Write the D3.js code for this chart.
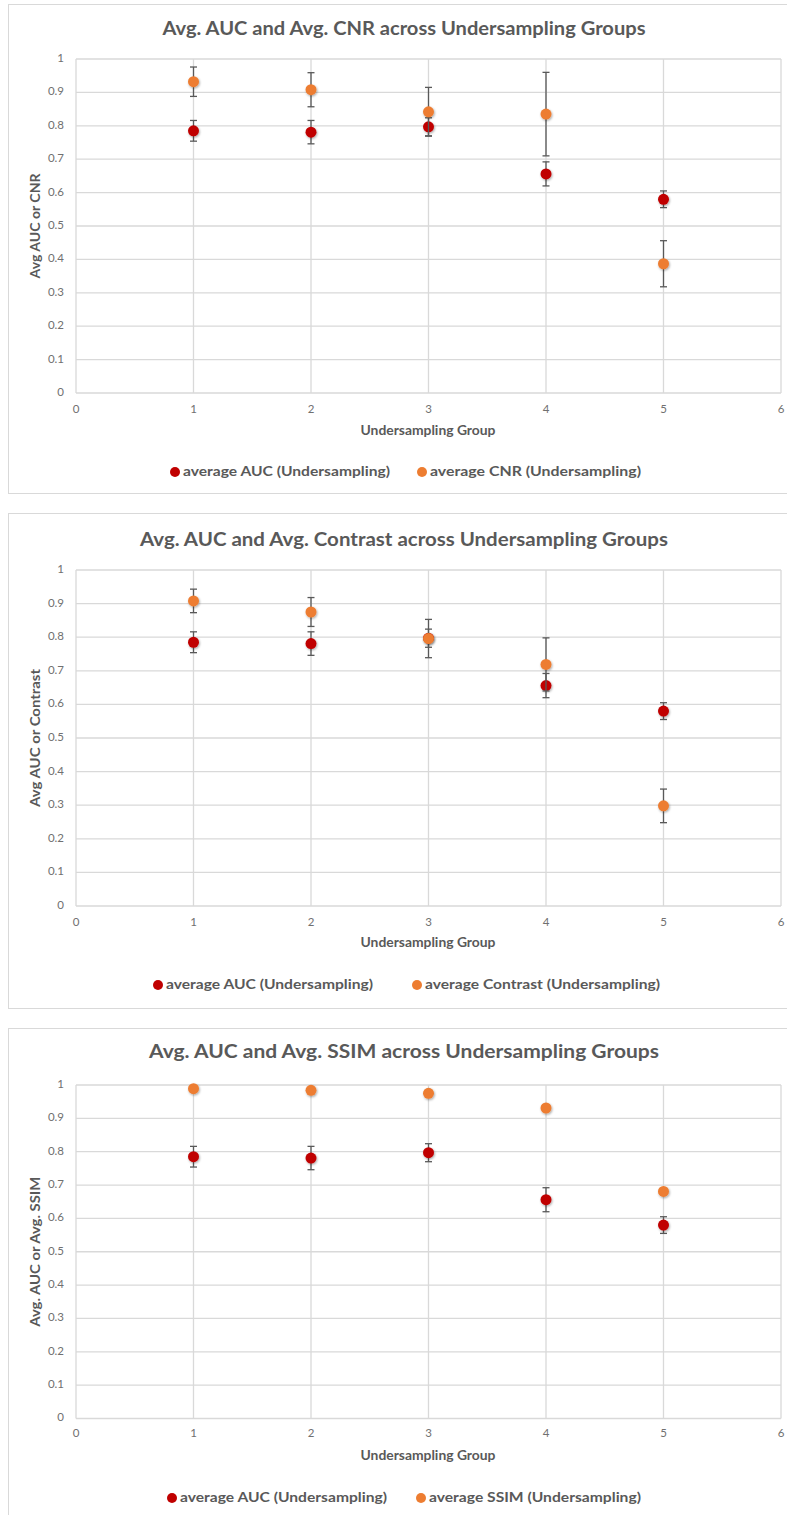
<!DOCTYPE html>
<html><head><meta charset="utf-8">
<script src="https://cdn.jsdelivr.net/npm/d3@7"></script>
<style>body{margin:0;background:#fff}svg{display:block}text{font-family:Lato,"Open Sans",sans-serif}</style>
</head><body>
<script>
const groups = [1, 2, 3, 4, 5];
const xTicks = [0, 1, 2, 3, 4, 5, 6];
const yTicks = [0, 0.1, 0.2, 0.3, 0.4, 0.5, 0.6, 0.7, 0.8, 0.9, 1];
const aucMean = [0.785, 0.781, 0.797, 0.656, 0.580];
const aucErr = [0.031, 0.035, 0.027, 0.036, 0.025];
const cnrMean = [0.932, 0.908, 0.842, 0.835, 0.387];
const cnrErr = [0.044, 0.051, 0.073, 0.125, 0.069];
const contrastMean = [0.908, 0.875, 0.796, 0.719, 0.298];
const contrastErr = [0.035, 0.043, 0.057, 0.079, 0.050];
const ssimMean = [0.989, 0.984, 0.975, 0.931, 0.681];
const ssimErr = [0, 0, 0, 0, 0];
const titles = ["Avg. AUC and Avg. CNR across Undersampling Groups",
  "Avg. AUC and Avg. Contrast across Undersampling Groups",
  "Avg. AUC and Avg. SSIM across Undersampling Groups"];
const yLabels = ["Avg AUC or CNR", "Avg AUC or Contrast", "Avg. AUC or Avg. SSIM"];
const legendA = "average AUC (Undersampling)";
const legendB = ["average CNR (Undersampling)", "average Contrast (Undersampling)", "average SSIM (Undersampling)"];
const xLabel = "Undersampling Group";

const RED = "#C00000", ORANGE = "#ED7D31", GRID = "#d9d9d9", TXT = "#595959";

const svg = d3.select("body").append("svg").attr("width", 787).attr("height", 1515);
const defs = svg.append("defs");
const f = defs.append("filter").attr("id", "sh").attr("x", "-50%").attr("y", "-50%").attr("width", "200%").attr("height", "200%");
f.append("feDropShadow").attr("dx", 0.8).attr("dy", 1.2).attr("stdDeviation", 1.2).attr("flood-color", "#000").attr("flood-opacity", 0.35);

const layouts = [
  {box:[8,4,800,489], top:59, bottom:393, title:30, xtick:410, xlab:432, leg:472, ylx:37, yl:105, legA:175, legB:422, tl:483, la:207, lb:211},
  {box:[8,513,800,495], top:570, bottom:906, title:541, xtick:923, xlab:944, leg:985, ylx:37, yl:138, legA:158, legB:417, tl:528, la:207, lb:235},
  {box:[8,1028,800,500], top:1085, bottom:1418.5, title:1053, xtick:1434, xlab:1457, leg:1498, ylx:37, yl:150, legA:172, legB:421, tl:510, la:207, lb:212}
];
const seriesB = [[cnrMean, cnrErr], [contrastMean, contrastErr], [ssimMean, ssimErr]];

layouts.forEach((L, i) => {
  const g = svg.append("g");
  g.append("rect").attr("x", L.box[0]+0.5).attr("y", L.box[1]+0.5).attr("width", L.box[2]).attr("height", L.box[3])
    .attr("fill", "#fff").attr("stroke", GRID).attr("stroke-width", 1);
  const x = d3.scaleLinear().domain([0, 6]).range([76, 781]);
  const y = d3.scaleLinear().domain([0, 1]).range([L.bottom, L.top]);

  g.append("text").attr("x", 404).attr("y", L.title).attr("text-anchor", "middle").attr("dominant-baseline", "middle")
    .attr("font-size", 18.5).attr("font-weight", "bold").attr("fill", TXT).attr("textLength", L.tl).attr("lengthAdjust", "spacingAndGlyphs").text(titles[i]);

  g.append("g").selectAll("line").data(yTicks).join("line")
    .attr("x1", x(0)).attr("x2", x(6)).attr("y1", d => y(d)).attr("y2", d => y(d))
    .attr("stroke", GRID).attr("stroke-width", 1.3);
  g.append("g").selectAll("line").data(xTicks).join("line")
    .attr("x1", d => x(d)).attr("x2", d => x(d)).attr("y1", y(0)).attr("y2", y(1))
    .attr("stroke", GRID).attr("stroke-width", 1.3);

  g.append("g").selectAll("text").data(yTicks).join("text")
    .attr("x", 64).attr("y", d => y(d)).attr("text-anchor", "end").attr("dominant-baseline", "middle")
    .attr("font-size", 11.5).attr("fill", "#707070").text(d => +d.toFixed(1));
  g.append("g").selectAll("text").data(xTicks).join("text")
    .attr("x", d => x(d)).attr("y", L.xtick).attr("text-anchor", "middle").attr("dominant-baseline", "middle")
    .attr("font-size", 11.5).attr("fill", "#707070").text(d => d);

  g.append("text").attr("x", 428).attr("y", L.xlab).attr("text-anchor", "middle").attr("dominant-baseline", "middle")
    .attr("font-size", 13.5).attr("font-weight", "bold").attr("fill", TXT).attr("textLength", 135).attr("lengthAdjust", "spacingAndGlyphs").text(xLabel);
  g.append("text").attr("transform", `translate(${L.ylx},${(y(0)+y(1))/2}) rotate(-90)`).attr("text-anchor", "middle").attr("dominant-baseline", "middle")
    .attr("font-size", 13.5).attr("font-weight", "bold").attr("fill", TXT).attr("textLength", L.yl).attr("lengthAdjust", "spacingAndGlyphs").text(yLabels[i]);

  const series = [
    {mean: seriesB[i][0], err: seriesB[i][1], color: ORANGE},
    {mean: aucMean, err: aucErr, color: RED}
  ];
  const order = [series[1], series[0]];
  order.forEach(s => {
    const eg = g.append("g").attr("stroke", "#595959").attr("stroke-width", 1.3);
    groups.forEach((gr, k) => {
      if (s.err[k] <= 0) return;
      const cx = x(gr), y1 = y(s.mean[k] + s.err[k]), y2 = y(s.mean[k] - s.err[k]);
      eg.append("line").attr("x1", cx).attr("x2", cx).attr("y1", y1).attr("y2", y2);
      eg.append("line").attr("x1", cx-3.5).attr("x2", cx+3.5).attr("y1", y1).attr("y2", y1);
      eg.append("line").attr("x1", cx-3.5).attr("x2", cx+3.5).attr("y1", y2).attr("y2", y2);
    });
    g.append("g").selectAll("circle").data(groups).join("circle")
      .attr("cx", d => x(d)).attr("cy", (d, k) => y(s.mean[k])).attr("r", 5.5)
      .attr("fill", s.color).attr("filter", "url(#sh)");
  });

  [[L.legA, RED, legendA, L.la], [L.legB, ORANGE, legendB[i], L.lb]].forEach(([lx, c, t, w]) => {
    g.append("circle").attr("cx", lx).attr("cy", L.leg).attr("r", 5).attr("fill", c);
    g.append("text").attr("x", lx+8).attr("y", L.leg).attr("dominant-baseline", "middle")
      .attr("font-size", 14).attr("font-weight", "bold").attr("fill", TXT).attr("textLength", w).attr("lengthAdjust", "spacingAndGlyphs").text(t);
  });
});
</script>
</body></html>
